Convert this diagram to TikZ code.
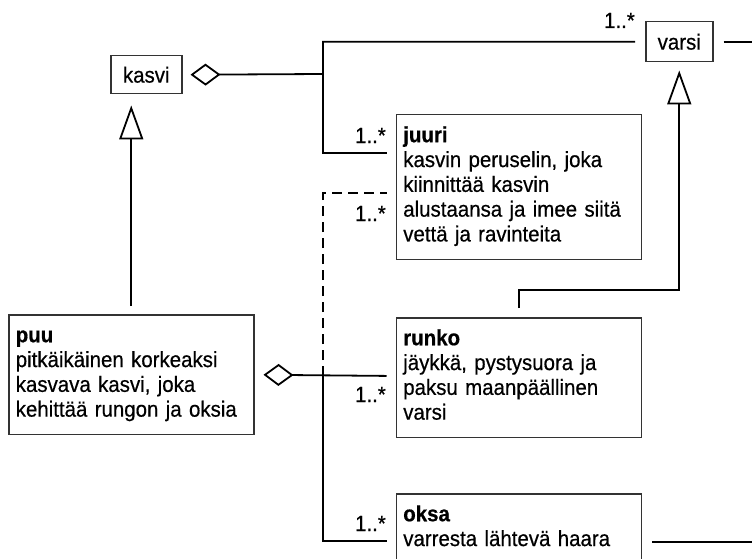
\documentclass[tikz,border=0pt]{standalone}
\usepackage{fontspec}
\setmainfont{Liberation Sans}[FakeStretch=0.93, UprightFeatures={FakeBold=0.5}, BoldFeatures={FakeBold=0.6}]
\usetikzlibrary{arrows.meta,calc}
% struts fixing the first baseline and the space under the last line of a class box
\newcommand\clsTop{\rule{0pt}{17pt}}
\newcommand\clsBot{\rule[-7.5pt]{0pt}{7.5pt}}
\begin{document}
\begin{tikzpicture}[x=1pt,y=-1pt,
  every node/.style={font=\fontsize{22pt}{24.8pt}\selectfont, text=black},
  classbox/.style={draw=black!80, line width=1.5pt, anchor=north west,
    text width=231pt, align=left, inner xsep=7pt, inner ysep=10.5pt},
  namebox/.style={draw=black!80, line width=1.5pt, inner sep=0pt, anchor=north west},
  conn/.style={line width=1.8pt, black},
  gen/.style={conn, -{Triangle[open, length=34pt, width=24pt]}},
  agg/.style={conn, -{Diamond[open, length=30pt, width=22pt]}},
  derived/.style={conn, dash pattern=on 10pt off 6pt},
  mult/.style={anchor=base east, inner sep=0pt}
]
\useasboundingbox (0,0) rectangle (752,559);

% classes
\node[namebox, minimum width=71pt, minimum height=38pt] (kasvi) at (110,55) {kasvi};
\node[namebox, minimum width=67pt, minimum height=40pt] (varsi) at (645,21) {varsi};
\node[classbox] (juuri) at (395.5,114) {\clsTop\textbf{juuri}\\kasvin peruselin, joka\\kiinnittää kasvin\\alustaansa ja imee siitä\\vettä ja ravinteita\clsBot};
\node[classbox] (runko) at (395.5,317) {\clsTop\textbf{runko}\\jäykkä, pystysuora ja\\paksu maanpäällinen\\varsi\clsBot};
\node[classbox] (oksa) at (395.5,493) {\clsTop\textbf{oksa}\\varresta lähtevä haara\clsBot};
\node[classbox] (puu) at (8,314) {\clsTop\textbf{puu}\\pitkäikäinen korkeaksi\\kasvava kasvi, joka\\kehittää rungon ja oksia\clsBot};

% junctions and attachment points
\path (752,0) coordinate (edgeR);
\coordinate (kj) at (323,74);
\coordinate (pj) at (323,376);
\coordinate (jin) at ([yshift=-39pt]juuri.north west);
\coordinate (jdash) at ([yshift=-79pt]juuri.north west);
\coordinate (rin) at (runko.west |- pj);
\coordinate (oin) at ([yshift=-48pt]oksa.north west);
\coordinate (oout) at ([yshift=-49pt]oksa.north east);
\coordinate (vend) at (varsi.east -| edgeR);
\coordinate (oend) at (oout -| edgeR);

% generalisations
\draw[gen, shorten <=8pt, shorten >=11pt] (puu.north) -- (puu.north |- kasvi.south);
\draw[gen, shorten <=9pt, shorten >=8pt] (runko.north) -- ++(0,-27) -| (varsi.south);

% kasvi aggregation
\draw[agg, shorten <=10pt, shorten >=8pt] (varsi.west) -| (kj) -- (kasvi.east);
\draw[conn, shorten >=9pt] (kj) |- (jin);

% puu aggregation
\draw[derived, shorten >=9pt] (pj) |- (jdash);
\draw[agg, shorten <=9pt, shorten >=9pt] (rin) -- (puu.east);
\draw[conn, shorten >=9pt] (pj) |- (oin);

% links running off to the right
\draw[conn, shorten <=10pt] (varsi.east) -- (vend);
\draw[conn, shorten <=10pt] (oout) -- (oend);

% multiplicities
\node[mult] (m-varsi) at (635,28) {1..*};
\node[mult] (m-juuri) at (386,143) {1..*};
\node[mult] (m-dash) at (386,221) {1..*};
\node[mult] (m-runko) at (386,402) {1..*};
\node[mult] (m-oksa) at (386,531) {1..*};
\end{tikzpicture}
\end{document}
